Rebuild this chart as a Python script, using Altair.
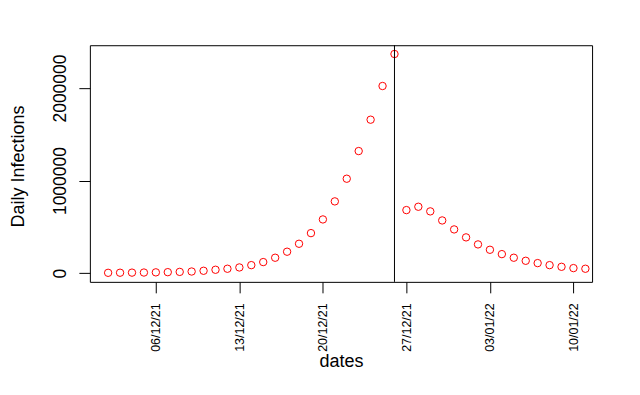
import altair as alt
import pandas as pd

dates = pd.date_range("2021-12-02", "2022-01-11", freq="D").strftime("%Y-%m-%d").tolist()
infections = [3000, 4000, 5000, 6000, 8000, 10000, 13000, 17000, 25000, 36000,
              47000, 61000, 86000, 119000, 166000, 231000, 317000, 432000, 580000, 775000,
              1020000, 1319000, 1658000, 2022000, 2368000,
              681000, 717000, 667000, 569000, 472000, 386000, 310000, 252000, 205000, 166000,
              133000, 108000, 86000, 68000, 54000, 47000]
tick_dates = ["2021-12-06", "2021-12-13", "2021-12-20", "2021-12-27", "2022-01-03", "2022-01-10"]
y_ticks = [0, 1000000, 2000000]
event_date = "2021-12-26"

def ms(s, hours=0.0):
    return int((pd.Timestamp(s, tz="UTC") + pd.Timedelta(hours=hours)).value // 10**6)

df = pd.DataFrame({"date": dates, "infections": infections})

x_dom = [ms(dates[0], -1.53 * 24), ms(dates[-1], 0.56 * 24)]
ymax = max(infections)
y_dom = [-0.04 * ymax, ymax * 1.04]

font = "Liberation Sans"

x_enc = alt.X("date:T", title="dates",
              scale=alt.Scale(type="utc", domain=x_dom, nice=False),
              axis=alt.Axis(values=[ms(d) for d in tick_dates], format="%d/%m/%y",
                            labelAngle=270, labelAlign="right", labelBaseline="middle",
                            labelFontSize=12.5, labelPadding=10, tickSize=11,
                            grid=False, domain=False, tickColor="black",
                            labelColor="black", titleFontSize=18, titleFontWeight="normal",
                            titleColor="black", titleY=85, titleBaseline="alphabetic",
                            labelFont=font, titleFont=font, labelOverlap=False))

points = alt.Chart(df).mark_point(shape="circle", filled=False, color="red",
                                  size=55, strokeWidth=1, opacity=1).encode(
    x=x_enc,
    y=alt.Y("infections:Q", title="Daily Infections",
            scale=alt.Scale(domain=y_dom, nice=False, zero=False),
            axis=alt.Axis(values=y_ticks, format="d", labelAngle=270,
                          labelAlign="center", labelBaseline="bottom",
                          labelFontSize=17.5, labelPadding=9, tickSize=11,
                          grid=False, domain=False, tickColor="black",
                          labelColor="black", titleFontSize=18,
                          titleFontWeight="normal", titleColor="black",
                          titleX=-66, titleY=121, titleBaseline="alphabetic",
                          labelFont=font, titleFont=font))
)

rule = alt.Chart(pd.DataFrame({"date": [event_date]})).mark_rule(
    color="black", strokeWidth=1).encode(x=alt.X("date:T"))

chart = alt.layer(points, rule).properties(
    width=503, height=237,
    autosize=alt.AutoSizeParams(type="none"),
    padding={"left": 82, "top": 37, "right": 40, "bottom": 90},
    background="white",
).configure_view(stroke="black", strokeWidth=1, strokeOpacity=1)

chart.save("out.html", embed_options={"renderer": "svg", "actions": False})
